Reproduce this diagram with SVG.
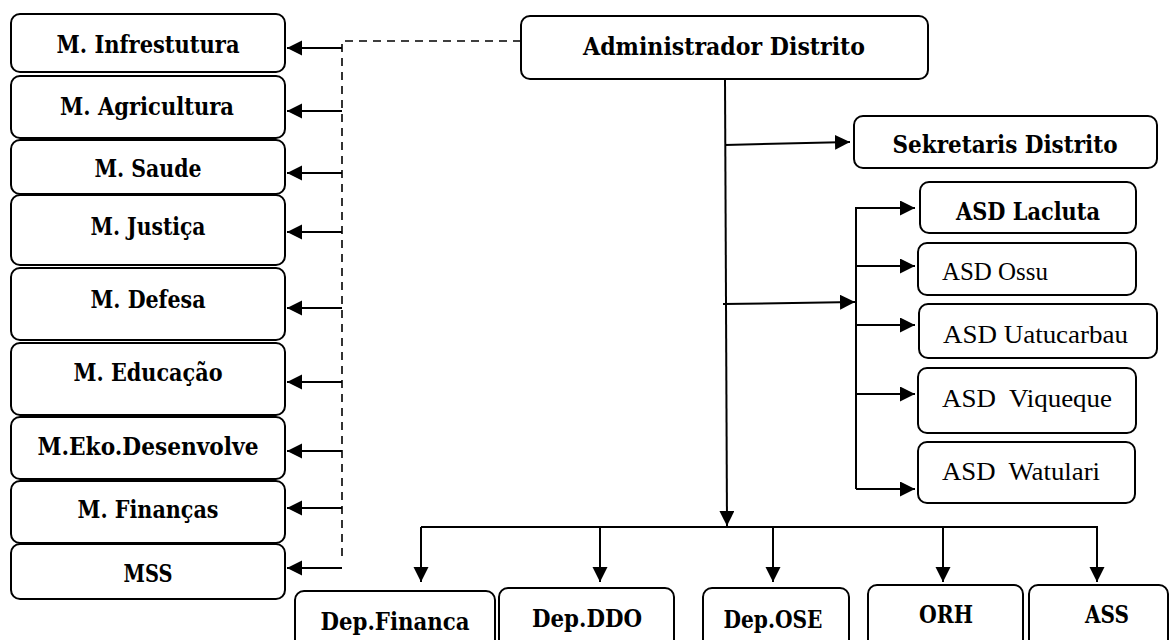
<svg xmlns="http://www.w3.org/2000/svg" width="1173" height="640" viewBox="0 0 1173 640">
<defs>
<marker id="ah" markerUnits="userSpaceOnUse" markerWidth="16" markerHeight="16" refX="15" refY="7.5" orient="auto">
<path d="M0,0 L15,7.5 L0,15 z" fill="#000"/>
</marker>
<style>
.box{fill:#fff;stroke:#000;stroke-width:2}
.b{font-family:"DejaVu Serif","Liberation Serif",serif;font-weight:bold;font-size:24px;fill:#000;text-anchor:middle}
.r{font-family:"Liberation Serif","Times New Roman",serif;font-size:26px;fill:#000}
.ln{fill:none;stroke:#000;stroke-width:2}
.arr{fill:none;stroke:#000;stroke-width:2;marker-end:url(#ah)}
.dash{fill:none;stroke:#000;stroke-width:1.6;stroke-dasharray:8 6}
</style>
</defs>
<rect width="1173" height="640" fill="#fff"/>
<g id="connectors">
<path class="dash" d="M521,41 H342 V560"/>
<line class="arr" x1="342" y1="48" x2="287" y2="48"/>
<line class="arr" x1="342" y1="111" x2="287" y2="111"/>
<line class="arr" x1="342" y1="173" x2="287" y2="173"/>
<line class="arr" x1="342" y1="232" x2="287" y2="232"/>
<line class="arr" x1="342" y1="308" x2="287" y2="308"/>
<line class="arr" x1="342" y1="382" x2="287" y2="382"/>
<line class="arr" x1="342" y1="451" x2="287" y2="451"/>
<line class="arr" x1="342" y1="508" x2="287" y2="508"/>
<line class="arr" x1="342" y1="568" x2="287" y2="568"/>
<line class="arr" x1="725" y1="79" x2="727" y2="526"/>
<line class="arr" x1="725" y1="145" x2="850" y2="142"/>
<line class="arr" x1="723" y1="304" x2="855" y2="302"/>
<path class="ln" d="M915,208 H856 V489"/>
<line class="arr" x1="856" y1="208" x2="915" y2="208"/>
<line class="arr" x1="856" y1="266" x2="915" y2="266"/>
<line class="arr" x1="856" y1="325" x2="915" y2="325"/>
<line class="arr" x1="856" y1="394" x2="915" y2="394"/>
<line class="arr" x1="856" y1="489" x2="915" y2="489"/>
<line class="ln" x1="421" y1="527" x2="1098" y2="527"/>
<line class="arr" x1="421" y1="527" x2="421" y2="582"/>
<line class="arr" x1="600" y1="527" x2="600" y2="582"/>
<line class="arr" x1="773" y1="527" x2="773" y2="582"/>
<line class="arr" x1="943" y1="527" x2="943" y2="582"/>
<line class="arr" x1="1097" y1="527" x2="1097" y2="582"/>
</g>
<g id="n-infra"><rect class="box" x="11" y="14" width="274" height="58" rx="9"/><text class="b" x="148" y="53" textLength="183" lengthAdjust="spacingAndGlyphs">M. Infrestutura</text></g>
<g id="n-agri"><rect class="box" x="11" y="76" width="274" height="62" rx="9"/><text class="b" x="147" y="115" textLength="174" lengthAdjust="spacingAndGlyphs">M. Agricultura</text></g>
<g id="n-saude"><rect class="box" x="11" y="140" width="274" height="54" rx="9"/><text class="b" x="148" y="177" textLength="107" lengthAdjust="spacingAndGlyphs">M. Saude</text></g>
<g id="n-justica"><rect class="box" x="11" y="195" width="274" height="70" rx="9"/><text class="b" x="148" y="235" textLength="115" lengthAdjust="spacingAndGlyphs">M. Justiça</text></g>
<g id="n-defesa"><rect class="box" x="11" y="268" width="274" height="72" rx="9"/><text class="b" x="148" y="308" textLength="115" lengthAdjust="spacingAndGlyphs">M. Defesa</text></g>
<g id="n-educacao"><rect class="box" x="11" y="343" width="274" height="72" rx="9"/><text class="b" x="148" y="381" textLength="149" lengthAdjust="spacingAndGlyphs">M. Educação</text></g>
<g id="n-eko"><rect class="box" x="11" y="417" width="274" height="62" rx="9"/><text class="b" x="148" y="455" textLength="221" lengthAdjust="spacingAndGlyphs">M.Eko.Desenvolve</text></g>
<g id="n-financas"><rect class="box" x="11" y="481" width="274" height="62" rx="9"/><text class="b" x="148" y="518" textLength="141" lengthAdjust="spacingAndGlyphs">M. Finanças</text></g>
<g id="n-mss"><rect class="box" x="11" y="544" width="274" height="55" rx="9"/><text class="b" x="148" y="582" textLength="49" lengthAdjust="spacingAndGlyphs">MSS</text></g>
<g id="n-admin"><rect class="box" x="521" y="16" width="407" height="63" rx="9"/><text class="b" x="724" y="55" textLength="282" lengthAdjust="spacingAndGlyphs">Administrador Distrito</text></g>
<g id="n-sekretaris"><rect class="box" x="854" y="116" width="303" height="52" rx="9"/><text class="b" x="1005" y="153" textLength="225" lengthAdjust="spacingAndGlyphs">Sekretaris Distrito</text></g>
<g id="n-lacluta"><rect class="box" x="920" y="182" width="216" height="51" rx="9"/><text class="b" x="1028" y="220" textLength="144" lengthAdjust="spacingAndGlyphs">ASD Lacluta</text></g>
<g id="n-ossu"><rect class="box" x="918" y="243" width="218" height="52" rx="9"/><text class="r" x="942" y="280" textLength="106" lengthAdjust="spacingAndGlyphs">ASD Ossu</text></g>
<g id="n-uatucarbau"><rect class="box" x="919" y="304" width="238" height="54" rx="9"/><text class="r" x="943" y="343" textLength="185" lengthAdjust="spacingAndGlyphs">ASD Uatucarbau</text></g>
<g id="n-viqueque"><rect class="box" x="918" y="368" width="218" height="65" rx="9"/><text class="r" x="942" y="407" textLength="170" lengthAdjust="spacingAndGlyphs" xml:space="preserve">ASD  Viqueque</text></g>
<g id="n-watulari"><rect class="box" x="918" y="442" width="217" height="61" rx="9"/><text class="r" x="942" y="480" textLength="158" lengthAdjust="spacingAndGlyphs" xml:space="preserve">ASD  Watulari</text></g>
<g id="n-depfinanca"><rect class="box" x="295" y="591" width="200" height="60" rx="9"/><text class="b" x="395" y="630" textLength="149" lengthAdjust="spacingAndGlyphs">Dep.Financa</text></g>
<g id="n-depddo"><rect class="box" x="499" y="588" width="175" height="62" rx="9"/><text class="b" x="587" y="627" textLength="110" lengthAdjust="spacingAndGlyphs">Dep.DDO</text></g>
<g id="n-depose"><rect class="box" x="703" y="588" width="146" height="62" rx="9"/><text class="b" x="773" y="628" textLength="99" lengthAdjust="spacingAndGlyphs">Dep.OSE</text></g>
<g id="n-orh"><rect class="box" x="868" y="585" width="155" height="65" rx="9"/><text class="b" x="946" y="623" textLength="54" lengthAdjust="spacingAndGlyphs">ORH</text></g>
<g id="n-ass"><rect class="box" x="1029" y="585" width="139" height="65" rx="9"/><text class="b" x="1107" y="623" textLength="44" lengthAdjust="spacingAndGlyphs">ASS</text></g>
</svg>
